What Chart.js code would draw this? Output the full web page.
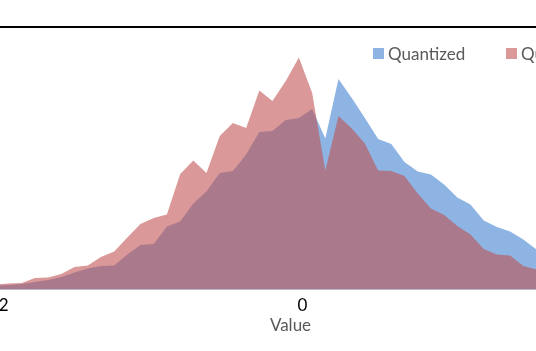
<!DOCTYPE html>
<html>
<head>
<meta charset="utf-8">
<script src="https://cdn.jsdelivr.net/npm/chart.js@4.4.1/dist/chart.umd.min.js"></script>
<style>
html, body { margin: 0; padding: 0; background: #fff; overflow: hidden; }
body { width: 536px; height: 351px; position: relative; font-family: Lato, sans-serif; }
#rule { position: absolute; left: 0; top: 26px; width: 536px; height: 2px; background: #000; z-index: 2; }
#wrap { position: absolute; left: -40px; top: 0; width: 661px; height: 351px; }
.legend-item { position: absolute; top: 45px; height: 17px; line-height: 17px; font-size: 17px; color: #595959; white-space: nowrap; z-index: 2; }
.legend-item i { position: absolute; left: 0; top: 3px; width: 11px; height: 11px; }
.legend-item span { position: absolute; left: 15px; top: 0; }
</style>
</head>
<body>
<div id="rule"></div>
<div id="wrap"><canvas id="chart-values"></canvas></div>
<div id="legend"></div>
<script>
// bin centres along the value axis
const bins = [
    -2.121, -2.034, -1.947, -1.859, -1.772, -1.684, -1.597, -1.510, -1.422, -1.335, -1.247,
    -1.160, -1.073, -0.985, -0.898, -0.810, -0.723, -0.636, -0.548, -0.461, -0.373, -0.286,
    -0.199, -0.111, -0.024, 0.064, 0.151, 0.238, 0.326, 0.413, 0.501, 0.588, 0.675,
    0.763, 0.850, 0.938, 1.025, 1.112, 1.200, 1.287, 1.375, 1.462, 1.549, 1.637
];
const quantized = [
    3, 4, 4.5, 5.5, 7.5, 9.5, 12.5, 17, 21, 23.5, 24,
    35, 44.5, 45.5, 63, 68, 86, 98, 116.5, 118.5, 135, 157.5,
    158.5, 169.5, 171.5, 180.5, 151, 210.5, 191.5, 171.5, 150.5, 145.5, 127.5,
    118, 115, 105, 92, 85, 69, 62.5, 58, 50, 40, 34
];
const quantizedRef = [
    4, 5, 6, 6.5, 11.5, 12, 15.5, 22.5, 24, 32.5, 38,
    52, 65.5, 71.5, 75, 115.5, 129, 116.5, 153.5, 166.5, 161.5, 199,
    188.5, 208.5, 232, 196.5, 119, 173.5, 161, 146, 119, 118.5, 113.5,
    96, 81, 74.5, 63.5, 55, 40.5, 35, 34, 23.5, 20, 18
];
const seriesNames = ['Quantized', 'Quantized (ref)'];
const seriesColors = ['rgb(142, 180, 227)', 'rgba(192, 80, 77, 0.58)'];
const axisTicks = [-2, 0, 2];

const toPoints = (vals) => bins.map((x, i) => ({ x: x, y: vals[i] }));

const ctx = document.getElementById('chart-values').getContext('2d');
const font = { family: 'Lato', size: 17 };

const chart = new Chart(ctx, {
    type: 'line',
    data: {
        datasets: [
            {
                label: seriesNames[0],
                data: toPoints(quantized),
                backgroundColor: seriesColors[0],
                borderWidth: 0,
                pointRadius: 0,
                fill: 'origin',
                tension: 0,
                order: 1
            },
            {
                label: seriesNames[1],
                data: toPoints(quantizedRef),
                backgroundColor: seriesColors[1],
                borderWidth: 0,
                pointRadius: 0,
                fill: 'origin',
                tension: 0,
                order: 0
            }
        ]
    },
    options: {
        responsive: true,
        maintainAspectRatio: false,
        animation: false,
        devicePixelRatio: 1,
        layout: { padding: { top: 9, bottom: 17.7, left: 0, right: 0 } },
        plugins: {
            tooltip: { enabled: false },
            legend: { display: false }
        },
        scales: {
            x: {
                type: 'linear',
                min: -2.268,
                max: 2.109,
                z: 1,
                grid: { display: false, drawTicks: false },
                border: { display: true, color: '#bcc6d6', width: 1 },
                afterBuildTicks: (scale) => {
                    scale.ticks = axisTicks.map(v => ({ value: v }));
                },
                ticks: { color: '#000', font: font, padding: 6.2, autoSkip: false, maxRotation: 0 },
                title: {
                    display: true,
                    text: 'Value',
                    color: '#595959',
                    font: { family: 'Lato', size: 17, lineHeight: 0.41 },
                    padding: { top: 0, bottom: 4 }
                }
            },
            y: {
                display: false,
                min: 0,
                max: 280.5
            }
        }
    }
});

// legend, laid out like the original at the top right
const legendLeft = [373, 506];
const legend = document.getElementById('legend');
chart.data.datasets.forEach((ds, i) => {
    const item = document.createElement('div');
    item.className = 'legend-item';
    item.style.left = legendLeft[i] + 'px';
    item.innerHTML = '<i style="background:' + ds.backgroundColor + '"></i><span>' + ds.label + '</span>';
    legend.appendChild(item);
});
</script>
</body>
</html>
